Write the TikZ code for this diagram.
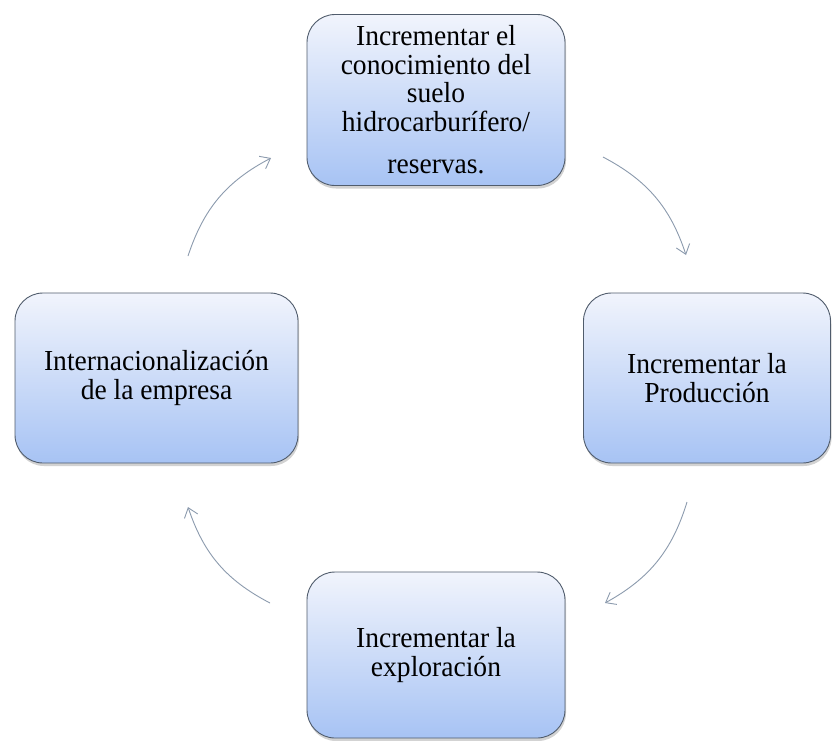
\documentclass[tikz,border=0pt]{standalone}
\usepackage{fontspec}
\setmainfont{Liberation Serif}[FakeStretch=0.95]
\usepackage{xcolor}
\usetikzlibrary{arrows.meta,shadows}
\definecolor{boxtop}{HTML}{F1F4FC}
\definecolor{boxbot}{HTML}{A7C3F4}
\definecolor{boxline}{HTML}{505C6C}
\definecolor{arrowcol}{HTML}{8C9BAE}
\tikzset{
  etapa/.style={draw=boxline, line width=0.9pt, rounded corners=28pt,
    top color=boxtop, bottom color=boxbot, align=center, inner sep=0pt,
    drop shadow={shadow xshift=1pt, shadow yshift=-3pt, opacity=0.35, fill=gray},
    font=\fontsize{29}{28.5}\selectfont},
  ciclo/.style={draw=arrowcol, line width=0.9pt, -{Straight Barb[length=9pt,width=14pt]}, bend left=22}
}

\begin{document}
\begin{tikzpicture}[x=1pt,y=-1pt]
      \useasboundingbox [fill=white] (0,0) rectangle (832,740);
      \node (conoc) [etapa, minimum width=258pt, minimum height=171pt] at (436,100)
        {Incrementar el\\conocimiento del\\suelo\\hidrocarburífero/\\[14pt]reservas.};
      \node (prod) [etapa, minimum width=247pt, minimum height=170pt] at (707,378)
        {Incrementar la\\Producción};
      \node (explo) [etapa, minimum width=258pt, minimum height=166pt] at (436,655)
        {Incrementar la\\exploración};
      \node (inter) [etapa, minimum width=283pt, minimum height=170pt] at (156.5,378)
        {Internacionalización\\de la empresa};
      % extremos de las flechas del ciclo
      \coordinate (a1) at (188,256);
      \coordinate (b1) at (271,158);
      \coordinate (a2) at (603,157);
      \coordinate (b2) at (686,255);
      \coordinate (a3) at (687,502);
      \coordinate (b3) at (605,603);
      \coordinate (a4) at (270,603);
      \coordinate (b4) at (188,507);
      \draw[ciclo] (a1) to (b1);
      \draw[ciclo] (a2) to (b2);
      \draw[ciclo] (a3) to (b3);
      \draw[ciclo] (a4) to (b4);
    \end{tikzpicture}
\end{document}
